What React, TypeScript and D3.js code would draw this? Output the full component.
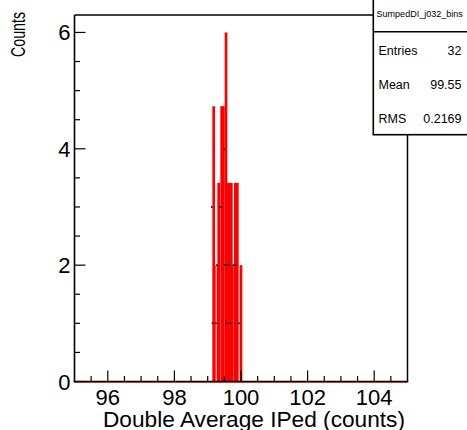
import React from "react";
import * as d3 from "d3";

// Histogram bins (bin center in counts, entries per bin)
const binCenters = [99.18, 99.2, 99.31, 99.33, 99.42, 99.47, 99.55, 99.57, 99.6, 99.65, 99.68, 99.71, 99.74, 99.83, 99.86, 99.89, 100.0];
const binCounts = [3, 1, 1, 2, 3, 3, 4, 2, 1, 2, 1, 2, 1, 2, 1, 2, 1];

const xMajorTicks = [96, 98, 100, 102, 104];
const yMajorTicks = [0, 2, 4, 6];

const histName = "SumpedDI_j032_bins";
const statLabels = ["Entries", "Mean", "RMS"];
const statValues = ["32", "99.55", "0.2169"];

const xTitle = "Double Average IPed (counts)";
const yTitle = "Counts";

export default function App() {
  const W = 467, H = 430;
  const left = 74.5, right = 407.5, top = 15, bottom = 381.5;
  const x = d3.scaleLinear().domain([95, 105]).range([left, right]);
  const y = d3.scaleLinear().domain([0, 6.3]).range([bottom, top]);
  const font = "'Liberation Sans', Arial, Helvetica, sans-serif";

  const xMinor = d3.range(95.5, 105, 0.5).filter((v) => Math.abs(v / 2 - Math.round(v / 2)) > 1e-6);
  const yMinor = d3.range(0.5, 6.3, 0.5).filter((v) => Math.abs(v / 2 - Math.round(v / 2)) > 1e-6);

  const bins = binCenters.map((c, i) => ({ c, n: binCounts[i] }));

  const boxX = 373.3, boxBottom = 134.7, sep = 31.7;

  return (
    <svg width={W} height={H} style={{ position: "absolute", left: 0, top: 0, background: "#fff" }} fontFamily={font}>
      <rect x={0} y={0} width={W} height={H} fill="#fff" />
      {/* zero line of histogram */}
      <line x1={left} x2={right} y1={bottom + 1} y2={bottom + 1} stroke="#ff0000" strokeWidth={1} opacity={0.7} />
      {/* bins: filled bar with error bar on top + marker */}
      {bins.map((b, i) => {
        const e = Math.sqrt(b.n);
        const cx = x(b.c);
        return (
          <g key={i}>
            <rect x={cx - 1.35} y={y(b.n + e)} width={2.7} height={y(0) - y(b.n + e)} fill="#ff0000" />
            <rect x={cx - 2.7} y={y(b.n) - 0.8} width={1.6} height={1.6} fill="#000" />
          </g>
        );
      })}
      {/* frame */}
      <line x1={left} x2={boxX} y1={top} y2={top} stroke="#000" strokeWidth={1.5} />
      <line x1={right} x2={right} y1={boxBottom} y2={bottom} stroke="#000" strokeWidth={1.5} />
      <line x1={left} x2={left} y1={top} y2={bottom + 0.8} stroke="#000" strokeWidth={1.6} />
      <line x1={left - 0.8} x2={right + 0.8} y1={bottom} y2={bottom} stroke="#000" strokeWidth={1.6} />
      {/* x ticks */}
      {xMajorTicks.map((t) => (
        <g key={"xm" + t}>
          <line x1={x(t)} x2={x(t)} y1={bottom} y2={bottom - 11} stroke="#000" strokeWidth={1.2} />
          <text x={x(t)} y={405} fontSize={22} textAnchor="middle" fill="#000">{t}</text>
        </g>
      ))}
      {xMinor.map((t) => (
        <line key={"xn" + t} x1={x(t)} x2={x(t)} y1={bottom} y2={bottom - 5.5} stroke="#000" strokeWidth={1.2} />
      ))}
      {/* y ticks */}
      {yMajorTicks.map((t) => (
        <g key={"ym" + t}>
          <line x1={left} x2={left + 11} y1={y(t)} y2={y(t)} stroke="#000" strokeWidth={1.2} />
          <text x={70.5} y={y(t) + 8} fontSize={22} textAnchor="end" fill="#000">{t}</text>
        </g>
      ))}
      {yMinor.map((t) => (
        <line key={"yn" + t} x1={left} x2={left + 5.5} y1={y(t)} y2={y(t)} stroke="#000" strokeWidth={1.2} />
      ))}
      {/* axis titles */}
      <text x={103} y={427} fontSize={22.5} textLength={302} lengthAdjust="spacingAndGlyphs" fill="#000">{xTitle}</text>
      <text transform="translate(25,12) rotate(-90)" fontSize={21} textAnchor="end" textLength={45} lengthAdjust="spacingAndGlyphs" fill="#000">{yTitle}</text>
      {/* stats box */}
      <rect x={boxX} y={-2} width={W - boxX + 2} height={boxBottom + 2} fill="#fff" stroke="#000" strokeWidth={1.6} />
      <line x1={boxX} x2={W} y1={sep} y2={sep} stroke="#000" strokeWidth={1.6} />
      <text x={(boxX + W) / 2 - 0.5} y={17} fontSize={9} textAnchor="middle" fill="#000">{histName}</text>
      {statLabels.map((l, i) => (
        <g key={l}>
          <text x={378.5} y={54.5 + i * 34} fontSize={12.5} fill="#000">{l}</text>
          <text x={461.5} y={54.5 + i * 34} fontSize={12.5} textAnchor="end" fill="#000">{statValues[i]}</text>
        </g>
      ))}
    </svg>
  );
}
